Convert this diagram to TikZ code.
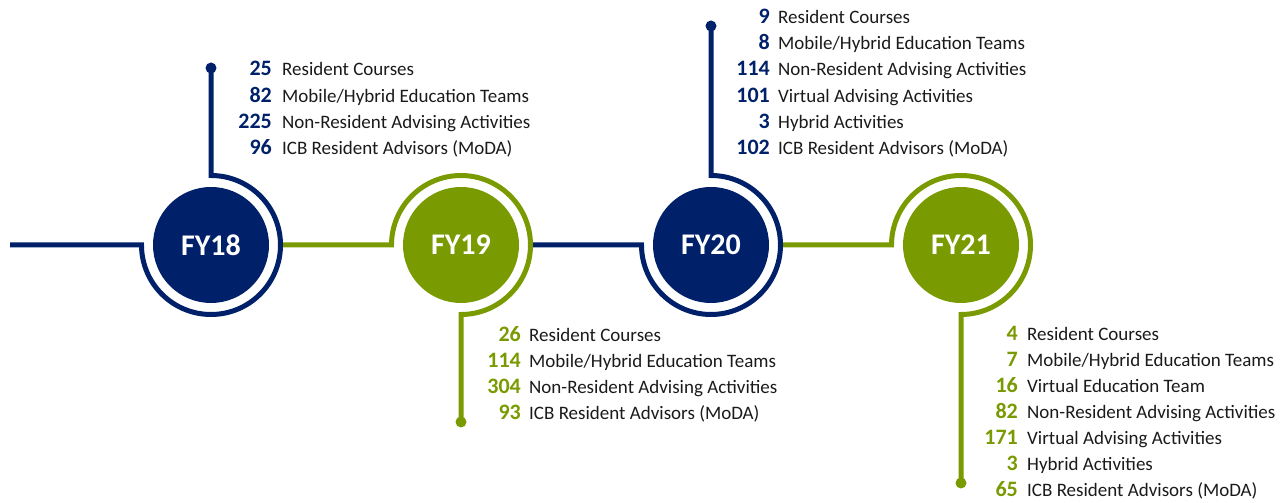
\documentclass[tikz,border=0pt]{standalone}
\usepackage{fontspec}
\setmainfont{Carlito}
\definecolor{fynavy}{RGB}{0,33,105}
\definecolor{fygreen}{RGB}{122,154,1}
\definecolor{fytext}{RGB}{26,26,26}
\tikzset{
  year/.style={circle, minimum size=116pt, inner sep=0pt, text=white,
    font=\bfseries\fontsize{30}{30}\selectfont},
  enddot/.style={circle, minimum size=11pt, inner sep=0pt},
  band/.style={line width=5pt},
  num/.style={anchor=base east, inner sep=0pt, font=\bfseries\fontsize{22}{22}\selectfont},
  item/.style={anchor=base west, inner sep=0pt, text=fytext, font=\fontsize{19}{19}\selectfont},
}
\begin{document}
\begin{tikzpicture}[x=1pt, y=1pt]
    \useasboundingbox (0,0) rectangle (1286,503);

    % year circles
    \node[year, fill=fynavy] (fy18) at (211,258) {FY18};
    \node[year, fill=fygreen] (fy19) at (461,258) {FY19};
    \node[year, fill=fynavy] (fy20) at (711,258) {FY20};
    \node[year, fill=fygreen] (fy21) at (961,258) {FY21};

    % end dots
    \node[enddot, fill=fynavy] (dot18) at (211,435) {};
    \node[enddot, fill=fygreen] (dot19) at (461,81) {};
    \node[enddot, fill=fynavy] (dot20) at (711,477) {};
    \node[enddot, fill=fygreen] (dot21) at (961,20) {};
    \coordinate (start) at (10,258);

    % timeline
    \draw[band, fygreen] ([xshift=69.5pt]fy20.center) -- ([xshift=-69.5pt]fy21.center)
      arc (180:-90:69.5) -- (dot21.center);
    \draw[band, fynavy] ([xshift=69.5pt]fy19.center) -- ([xshift=-69.5pt]fy20.center)
      arc (180:450:69.5) -- (dot20.center);
    \draw[band, fygreen] ([xshift=69.5pt]fy18.center) -- ([xshift=-69.5pt]fy19.center)
      arc (180:-90:69.5) -- (dot19.center);
    \draw[band, fynavy] (start) -- ([xshift=-69.5pt]fy18.center)
      arc (180:450:69.5) -- (dot18.center);

    % FY18
    \node[num, text=fynavy] (n18a) at (272,427.1) {25};
    \node[item] (t18a) at (282,427.1) {Resident Courses};
    \node[num, text=fynavy] (n18b) at (272,400.8) {82};
    \node[item] (t18b) at (282,400.8) {Mobile/Hybrid Education Teams};
    \node[num, text=fynavy] (n18c) at (272,374.5) {225};
    \node[item] (t18c) at (282,374.5) {Non-Resident Advising Activities};
    \node[num, text=fynavy] (n18d) at (272,348.2) {96};
    \node[item] (t18d) at (282,348.2) {ICB Resident Advisors (MoDA)};

    % FY19
    \node[num, text=fygreen] (n19a) at (521,161.3) {26};
    \node[item] (t19a) at (529,161.3) {Resident Courses};
    \node[num, text=fygreen] (n19b) at (521,135.2) {114};
    \node[item] (t19b) at (529,135.2) {Mobile/Hybrid Education Teams};
    \node[num, text=fygreen] (n19c) at (521,109.1) {304};
    \node[item] (t19c) at (529,109.1) {Non-Resident Advising Activities};
    \node[num, text=fygreen] (n19d) at (521,83) {93};
    \node[item] (t19d) at (529,83) {ICB Resident Advisors (MoDA)};

    % FY20
    \node[num, text=fynavy] (n20a) at (770,479.7) {9};
    \node[item] (t20a) at (778,479.7) {Resident Courses};
    \node[num, text=fynavy] (n20b) at (770,453.4) {8};
    \node[item] (t20b) at (778,453.4) {Mobile/Hybrid Education Teams};
    \node[num, text=fynavy] (n20c) at (770,427.1) {114};
    \node[item] (t20c) at (778,427.1) {Non-Resident Advising Activities};
    \node[num, text=fynavy] (n20d) at (770,400.8) {101};
    \node[item] (t20d) at (778,400.8) {Virtual Advising Activities};
    \node[num, text=fynavy] (n20e) at (770,374.5) {3};
    \node[item] (t20e) at (778,374.5) {Hybrid Activities};
    \node[num, text=fynavy] (n20f) at (770,348.2) {102};
    \node[item] (t20f) at (778,348.2) {ICB Resident Advisors (MoDA)};

    % FY21
    \node[num, text=fygreen] (n21a) at (1018,162.3) {4};
    \node[item] (t21a) at (1027,162.3) {Resident Courses};
    \node[num, text=fygreen] (n21b) at (1018,136.3) {7};
    \node[item] (t21b) at (1027,136.3) {Mobile/Hybrid Education Teams};
    \node[num, text=fygreen] (n21c) at (1018,110.3) {16};
    \node[item] (t21c) at (1027,110.3) {Virtual Education Team};
    \node[num, text=fygreen] (n21d) at (1018,84.3) {82};
    \node[item] (t21d) at (1027,84.3) {Non-Resident Advising Activities};
    \node[num, text=fygreen] (n21e) at (1018,58.3) {171};
    \node[item] (t21e) at (1027,58.3) {Virtual Advising Activities};
    \node[num, text=fygreen] (n21f) at (1018,32.3) {3};
    \node[item] (t21f) at (1027,32.3) {Hybrid Activities};
    \node[num, text=fygreen] (n21g) at (1018,6.3) {65};
    \node[item] (t21g) at (1027,6.3) {ICB Resident Advisors (MoDA)};
  \end{tikzpicture}
\end{document}
